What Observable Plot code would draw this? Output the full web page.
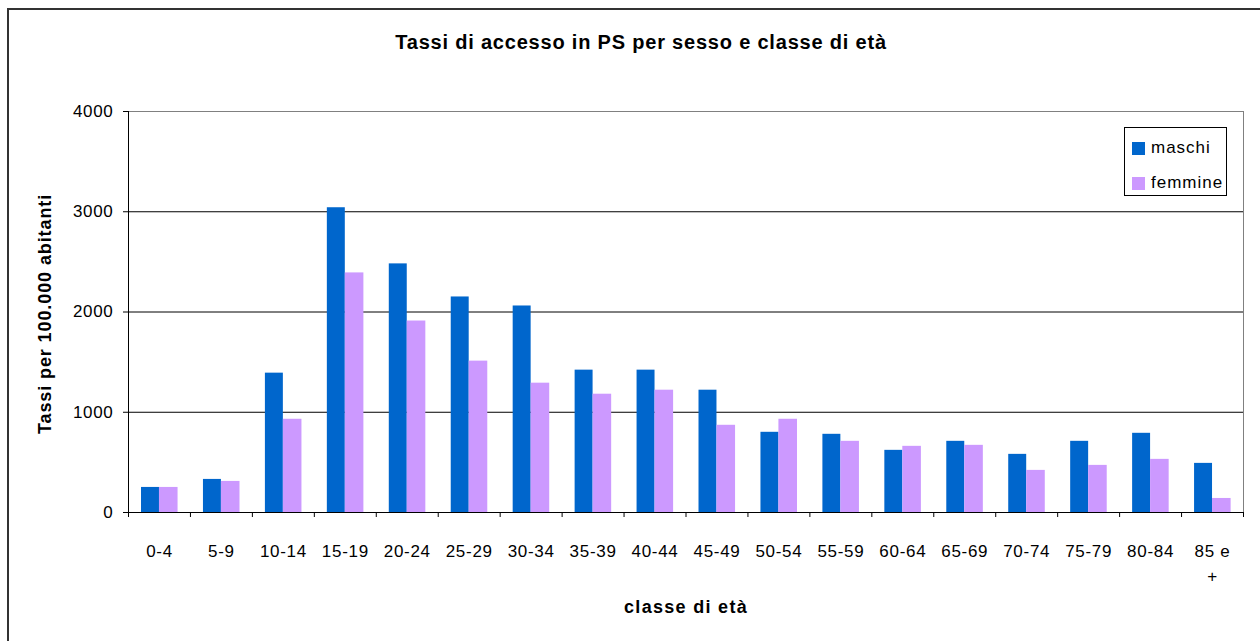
<!DOCTYPE html>
<html>
<head>
<meta charset="utf-8">
<script src="https://cdn.jsdelivr.net/npm/d3@7"></script>
<script src="https://cdn.jsdelivr.net/npm/@observablehq/plot@0.6"></script>
<style>
  html, body { margin: 0; padding: 0; background: #fff; width: 1260px; height: 641px; overflow: hidden; }
  body { position: relative; font-family: "Liberation Sans", Arial, sans-serif; color: #000; }
  #frame { position: absolute; left: 7px; top: 8px; width: 1300px; height: 700px; border-left: 2px solid #333; border-top: 2px solid #333; }
  #chart { position: absolute; left: 0; top: 0; }
  #chart svg text { letter-spacing: 0.7px; }
  .title { position: absolute; left: 641px; top: 42px; transform: translate(-50%, -50%); font-size: 20px; font-weight: bold; letter-spacing: 0.8px; white-space: nowrap; }
  .xlabel { position: absolute; left: 686px; top: 607px; transform: translate(-50%, -50%); font-size: 18px; font-weight: bold; letter-spacing: 1.3px; white-space: nowrap; }
  .ylabel { position: absolute; left: 45px; top: 314px; transform: translate(-50%, -50%) rotate(-90deg); font-size: 18px; font-weight: bold; letter-spacing: 0.9px; white-space: nowrap; }
  .legend { position: absolute; left: 1124px; top: 127px; width: 103px; height: 69px; border: 1px solid #000; background: #fff; box-sizing: border-box; }
  .legend .item { position: absolute; left: 7px; height: 14px; display: flex; align-items: center; font-size: 17px; letter-spacing: 1px; white-space: nowrap; }
  .legend .sw { width: 13px; height: 13px; margin-right: 6px; flex: none; }
</style>
</head>
<body>
<div id="frame"></div>
<div id="chart"></div>
<div class="title">Tassi di accesso in PS per sesso e classe di età</div>
<div class="ylabel">Tassi per 100.000 abitanti</div>
<div class="xlabel">classe di età</div>
<div class="legend" id="legend"></div>
<script>
// ---- data ----
const categories = ["0-4", "5-9", "10-14", "15-19", "20-24", "25-29", "30-34", "35-39", "40-44",
  "45-49", "50-54", "55-59", "60-64", "65-69", "70-74", "75-79", "80-84", "85 e +"];
const tickLabels = ["0-4", "5-9", "10-14", "15-19", "20-24", "25-29", "30-34", "35-39", "40-44",
  "45-49", "50-54", "55-59", "60-64", "65-69", "70-74", "75-79", "80-84", "85 e\n+"];
const maschi = [250, 330, 1390, 3040, 2480, 2150, 2060, 1420, 1420, 1220, 800, 780, 620, 710, 580, 710, 790, 490];
const femmine = [250, 310, 930, 2390, 1910, 1510, 1290, 1180, 1220, 870, 930, 710, 660, 670, 420, 470, 530, 140];
const seriesNames = ["maschi", "femmine"];
const seriesColors = ["#0066CC", "#CC99FF"];
const yTicks = [0, 1000, 2000, 3000, 4000];

// ---- layout ----
const W = 1260, H = 641, mL = 128, mR = 17, mT = 111, mB = 129;
const bw = (W - mL - mR) / categories.length;

const data = categories.map((c, i) => ({cat: c, m: maschi[i], f: femmine[i]}));

const chart = Plot.plot({
  width: W,
  height: H,
  marginLeft: mL,
  marginRight: mR,
  marginTop: mT,
  marginBottom: mB,
  style: {fontFamily: "'Liberation Sans', Arial, sans-serif", fontSize: "17px", background: "transparent", color: "#000", overflow: "visible"},
  x: {domain: categories, padding: 0, round: false, axis: null},
  y: {domain: [0, 4000], axis: null},
  marks: [
    Plot.frame({stroke: "#808080"}),
    Plot.ruleY(yTicks.filter(d => d > 0 && d < 4000), {stroke: "#000"}),
    Plot.barY(data, {x: "cat", y: "m", fill: seriesColors[0], insetLeft: 0.21 * bw, insetRight: 0.5 * bw}),
    Plot.barY(data, {x: "cat", y: "f", fill: seriesColors[1], insetLeft: 0.5 * bw, insetRight: 0.2 * bw}),
    Plot.ruleY([0], {stroke: "#000"}),
    Plot.ruleX([categories[0]], {x: d => d, dx: -bw / 2, stroke: "#000"}),
    Plot.axisY({ticks: yTicks, tickSize: 5, tickPadding: 10, label: null, tickFormat: d => String(d), stroke: "#000", fill: "#000"}),
    Plot.axisX({tickSize: 0, tickPadding: 26, lineHeight: 1.5, label: null, fill: "#000",
      tickFormat: d => tickLabels[categories.indexOf(d)]}),
    Plot.ruleX(categories, {x: d => d, dx: -bw / 2, y1: 0, y2: 0, insetBottom: -5, stroke: "#000"}),
    Plot.ruleX([categories[categories.length - 1]], {x: d => d, dx: bw / 2, y1: 0, y2: 0, insetBottom: -5, stroke: "#000"})
  ]
});
document.getElementById("chart").appendChild(chart);

// legend
const legend = document.getElementById("legend");
seriesNames.forEach((name, i) => {
  const item = document.createElement("div");
  item.className = "item";
  item.style.top = (13 + i * 35) + "px";
  const sw = document.createElement("span");
  sw.className = "sw";
  sw.style.background = seriesColors[i];
  const tx = document.createElement("span");
  tx.textContent = name;
  item.appendChild(sw);
  item.appendChild(tx);
  legend.appendChild(item);
});
</script>
</body>
</html>
